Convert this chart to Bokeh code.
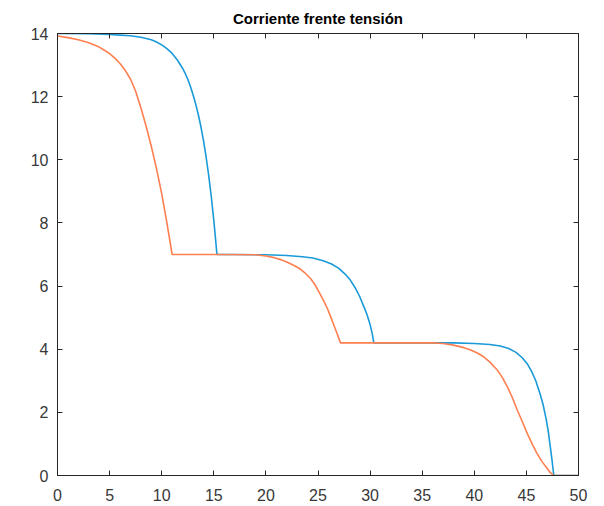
from bokeh.plotting import figure
from bokeh.models import LinearAxis, FixedTicker, Range1d
from bokeh.embed import file_html
from bokeh.resources import INLINE

# Blue curve
blue_x = [0, 3, 5, 6, 7, 8, 9, 9.5, 10, 10.5, 11, 11.5, 12, 12.25, 12.5, 12.75, 13, 13.25, 13.5,
          13.75, 14, 14.25, 14.5, 14.75, 15, 15.15, 15.3,
          17, 20, 22, 23.5, 24.5, 25.5, 26.3, 27, 27.6, 28.1, 28.6, 29.0, 29.4, 29.7, 30.0, 30.2, 30.36,
          33, 36, 38, 40, 41.5, 42.5, 43.3, 44, 44.6, 45.1, 45.5, 45.9, 46.3, 46.6, 46.9, 47.1, 47.3,
          47.45, 47.63, 50]
blue_y = [14.0, 13.99, 13.97, 13.95, 13.93, 13.88, 13.80, 13.73, 13.64, 13.52, 13.37, 13.16, 12.90, 12.74,
          12.55, 12.33, 12.07, 11.78, 11.45, 11.07, 10.63, 10.12, 9.53, 8.86, 8.08, 7.56, 7.0,
          7.0, 6.99, 6.97, 6.93, 6.89, 6.80, 6.70, 6.56, 6.38, 6.19, 5.93, 5.67, 5.35, 5.10, 4.78, 4.50, 4.2,
          4.2, 4.2, 4.2, 4.18, 4.15, 4.10, 4.02, 3.90, 3.73, 3.53, 3.30, 3.00, 2.60, 2.25, 1.78, 1.40, 0.89,
          0.51, 0.0, 0.0]

# Orange curve
orange_x = [0, 1, 2, 3, 4, 4.5, 5, 5.5, 6, 6.5, 7, 7.5, 8, 8.5, 9, 9.5, 10, 10.5, 11.0,
            15, 19, 20, 20.8, 21.5, 22.0, 22.7, 23.3, 23.8, 24.3, 24.7, 25.1, 25.5, 25.9, 26.2, 26.5,
            26.8, 27.16,
            30, 34, 36, 37, 38, 39, 39.6, 40.3, 40.9, 41.5, 42.2, 42.7, 43.2, 43.7, 44.1, 44.6, 45.1,
            45.6, 46.0, 46.5, 47.0, 47.3, 47.63, 50]
orange_y = [13.92, 13.87, 13.80, 13.71, 13.57, 13.47, 13.36, 13.22, 13.05, 12.83, 12.56, 12.17, 11.65, 11.07,
            10.43, 9.72, 8.93, 8.0, 7.0,
            7.0, 6.99, 6.95, 6.90, 6.83, 6.76, 6.65, 6.54, 6.40, 6.23, 6.05, 5.81, 5.56, 5.29, 5.04, 4.78,
            4.52, 4.2,
            4.2, 4.2, 4.2, 4.18, 4.13, 4.05, 3.98, 3.88, 3.76, 3.59, 3.34, 3.10, 2.79, 2.43, 2.09, 1.71, 1.32,
            0.97, 0.71, 0.44, 0.22, 0.09, 0.0, 0.0]

x_ticks = [0, 5, 10, 15, 20, 25, 30, 35, 40, 45, 50]
y_ticks = [0, 2, 4, 6, 8, 10, 12, 14]

title_text = "Corriente frente tensión"

AX = "#262626"
LBL = "#383838"
FONT = "Liberation Sans"

p = figure(width=596, height=504, output_backend="svg", toolbar_location=None,
           x_range=Range1d(0, 50), y_range=Range1d(0, 14),
           title=title_text, min_border_left=57, min_border_right=18,
           min_border_top=33, min_border_bottom=29)

p.title.align = "center"
p.title.text_font = FONT
p.title.text_font_size = "15px"
p.title.text_font_style = "bold"
p.title.text_color = "#000000"
p.title.standoff = 13

p.grid.visible = False
p.outline_line_color = AX
p.outline_line_width = 1
p.background_fill_color = "white"
p.border_fill_color = "white"

p.xaxis[0].ticker = FixedTicker(ticks=x_ticks)
p.yaxis[0].ticker = FixedTicker(ticks=y_ticks)
for ax in (p.xaxis[0], p.yaxis[0]):
    ax.axis_line_color = AX
    ax.major_tick_line_color = AX
    ax.major_tick_in = 5
    ax.major_tick_out = 0
    ax.minor_tick_line_color = None
    ax.major_label_text_font = FONT
    ax.major_label_text_font_size = "16px"
    ax.major_label_text_color = LBL
p.xaxis[0].major_label_standoff = 13
p.yaxis[0].major_label_standoff = 9

top = LinearAxis(ticker=FixedTicker(ticks=x_ticks))
right = LinearAxis(ticker=FixedTicker(ticks=y_ticks))
for ax in (top, right):
    ax.axis_line_color = AX
    ax.major_tick_line_color = AX
    ax.major_tick_in = 5
    ax.major_tick_out = 0
    ax.minor_tick_line_color = None
    ax.major_label_text_font_size = "0px"
    ax.major_label_text_color = None
    ax.major_label_standoff = 0
p.add_layout(top, "above")
p.add_layout(right, "right")

p.line(blue_x, blue_y, line_color="#1A9AD8", line_width=1.6)
p.line(orange_x, orange_y, line_color="#FF7F50", line_width=1.6)

open("out.html", "w").write(file_html(p, INLINE))
